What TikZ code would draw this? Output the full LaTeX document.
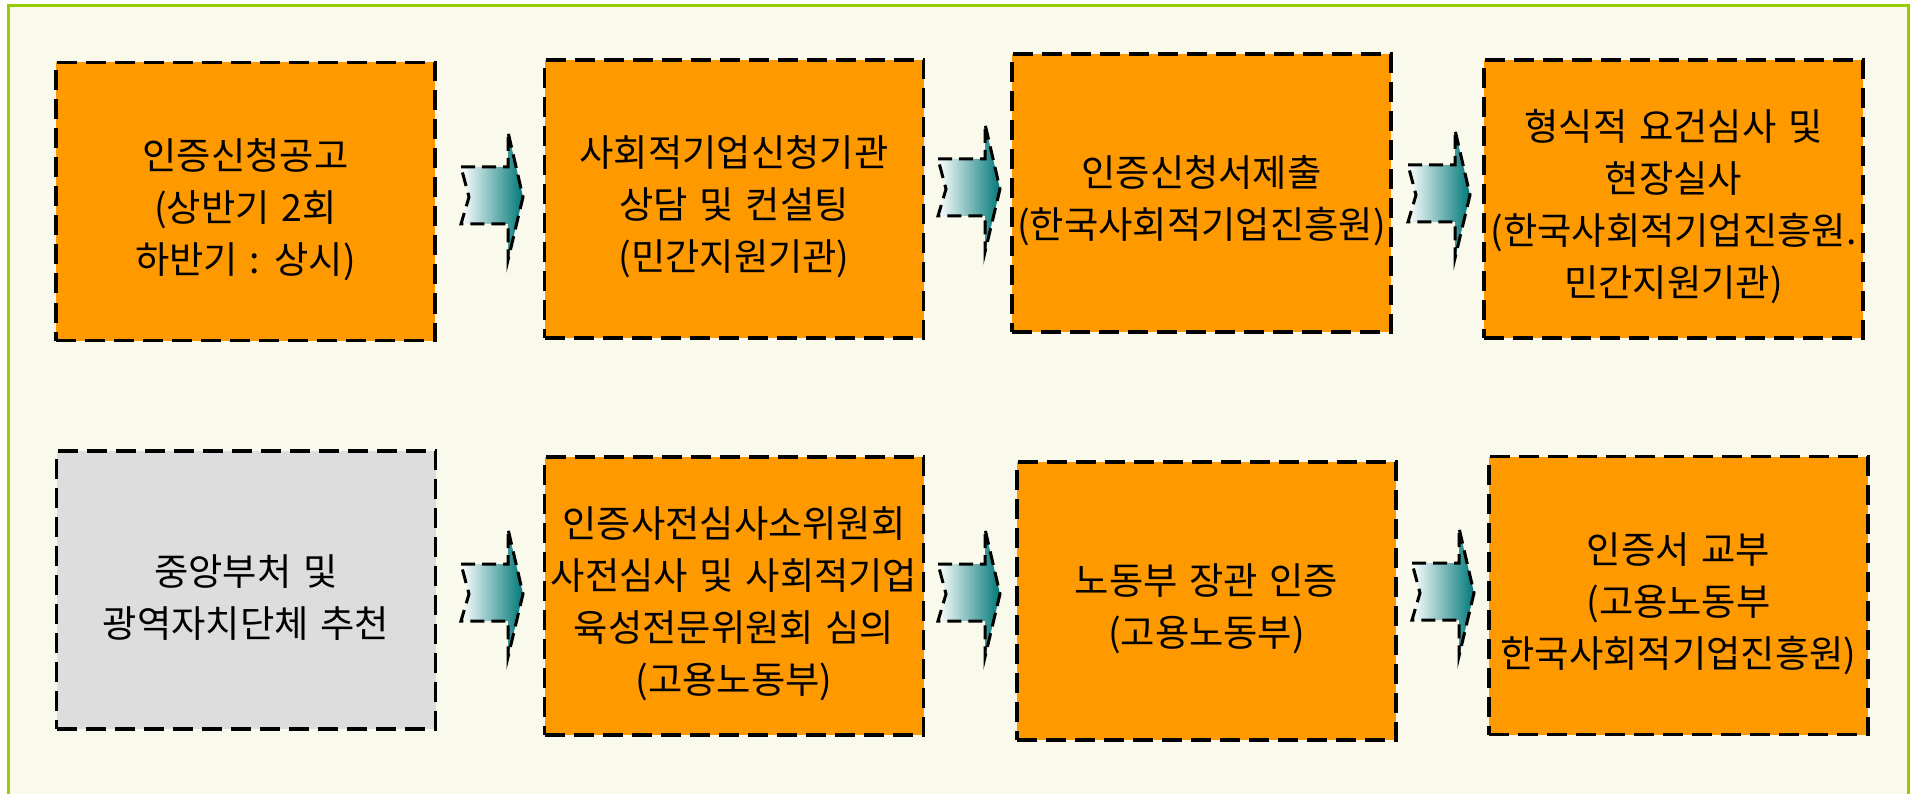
\documentclass[tikz,border=0pt]{standalone}
\usepackage{fontspec}
\setmainfont{Noto Sans CJK KR}[WordSpace=1.4]
\usetikzlibrary{calc}
\definecolor{bgivory}{RGB}{249,250,236}
\definecolor{framegreen}{RGB}{153,204,0}
\definecolor{boxorange}{RGB}{255,153,0}
\definecolor{boxgray}{RGB}{221,221,221}
\definecolor{arrowteal}{RGB}{0,120,120}
\tikzset{
  stepbox/.style={draw=black, line width=3.5pt, dash pattern=on 20pt off 9pt,
    fill=boxorange, minimum width=379pt, minimum height=278pt, inner sep=0pt},
  graybox/.style={stepbox, fill=boxgray},
  steptext/.style={inner sep=0pt, align=center, text=black,
    font=\fontsize{37.3}{52}\selectfont},
  flowarrow/.style={draw=black, line width=3pt, dash pattern=on 14pt off 7pt,
    left color=white, right color=arrowteal},
}
\newcommand\flowchev[2]{%
  \path[flowarrow] (#1,{#2-30}) -- ({#1+47},{#2-30}) -- ({#1+47},{#2-65})
    -- ({#1+62},#2) -- ({#1+47},{#2+63}) -- ({#1+47},{#2+27})
    -- (#1,{#2+27}) -- ({#1+8},#2) -- cycle;}
\begin{document}
\begin{tikzpicture}[x=1pt, y=-1pt]
\useasboundingbox (0,0) rectangle (1911,794);
\fill[white] (0,0) rectangle (1911,794);
\fill[bgivory] (8,6) rectangle (1908,810);
\draw[framegreen, line width=3pt] (8,6) rectangle (1908,810);

\node[stepbox] (b1) at (245.5,201.5) {};
\node[stepbox] (b2) at (734,199) {};
\node[stepbox] (b3) at (1201.5,193) {};
\node[stepbox] (b4) at (1673.5,199) {};
\node[graybox] (b5) at (246,590) {};
\node[stepbox] (b6) at (734,596) {};
\node[stepbox] (b7) at (1206.5,601) {};
\node[stepbox] (b8) at (1678.5,595.5) {};

\node[steptext] (t1) at ([yshift=-8pt]b1.center) {인증신청공고\\(상반기 2회\\하반기 : 상시)};
\node[steptext] (t2) at ([yshift=-8pt]b2.center) {사회적기업신청기관\\상담 및 컨설팅\\(민간지원기관)};
\node[steptext] (t3) at ([yshift=-8pt]b3.center) {인증신청서제출\\(한국사회적기업진흥원)};
\node[steptext] (t4) at ([yshift=-8pt]b4.center) {형식적 요건심사 및\\현장실사\\(한국사회적기업진흥원.\\민간지원기관)};
\node[steptext] (t5) at ([yshift=-8pt]b5.center) {중앙부처 및\\광역자치단체 추천};
\node[steptext] (t6) at ([yshift=-8pt]b6.center) {인증사전심사소위원회\\사전심사 및 사회적기업\\육성전문위원회 심의\\(고용노동부)};
\node[steptext] (t7) at ([yshift=-8pt]b7.center) {노동부 장관 인증\\(고용노동부)};
\node[steptext] (t8) at ([yshift=-8pt]b8.center) {인증서 교부\\(고용노동부\\한국사회적기업진흥원)};

\flowchev{461}{197}
\flowchev{938}{189}
\flowchev{1408}{195}
\flowchev{461}{594}
\flowchev{938}{594}
\flowchev{1412}{593}
\end{tikzpicture}
\end{document}
